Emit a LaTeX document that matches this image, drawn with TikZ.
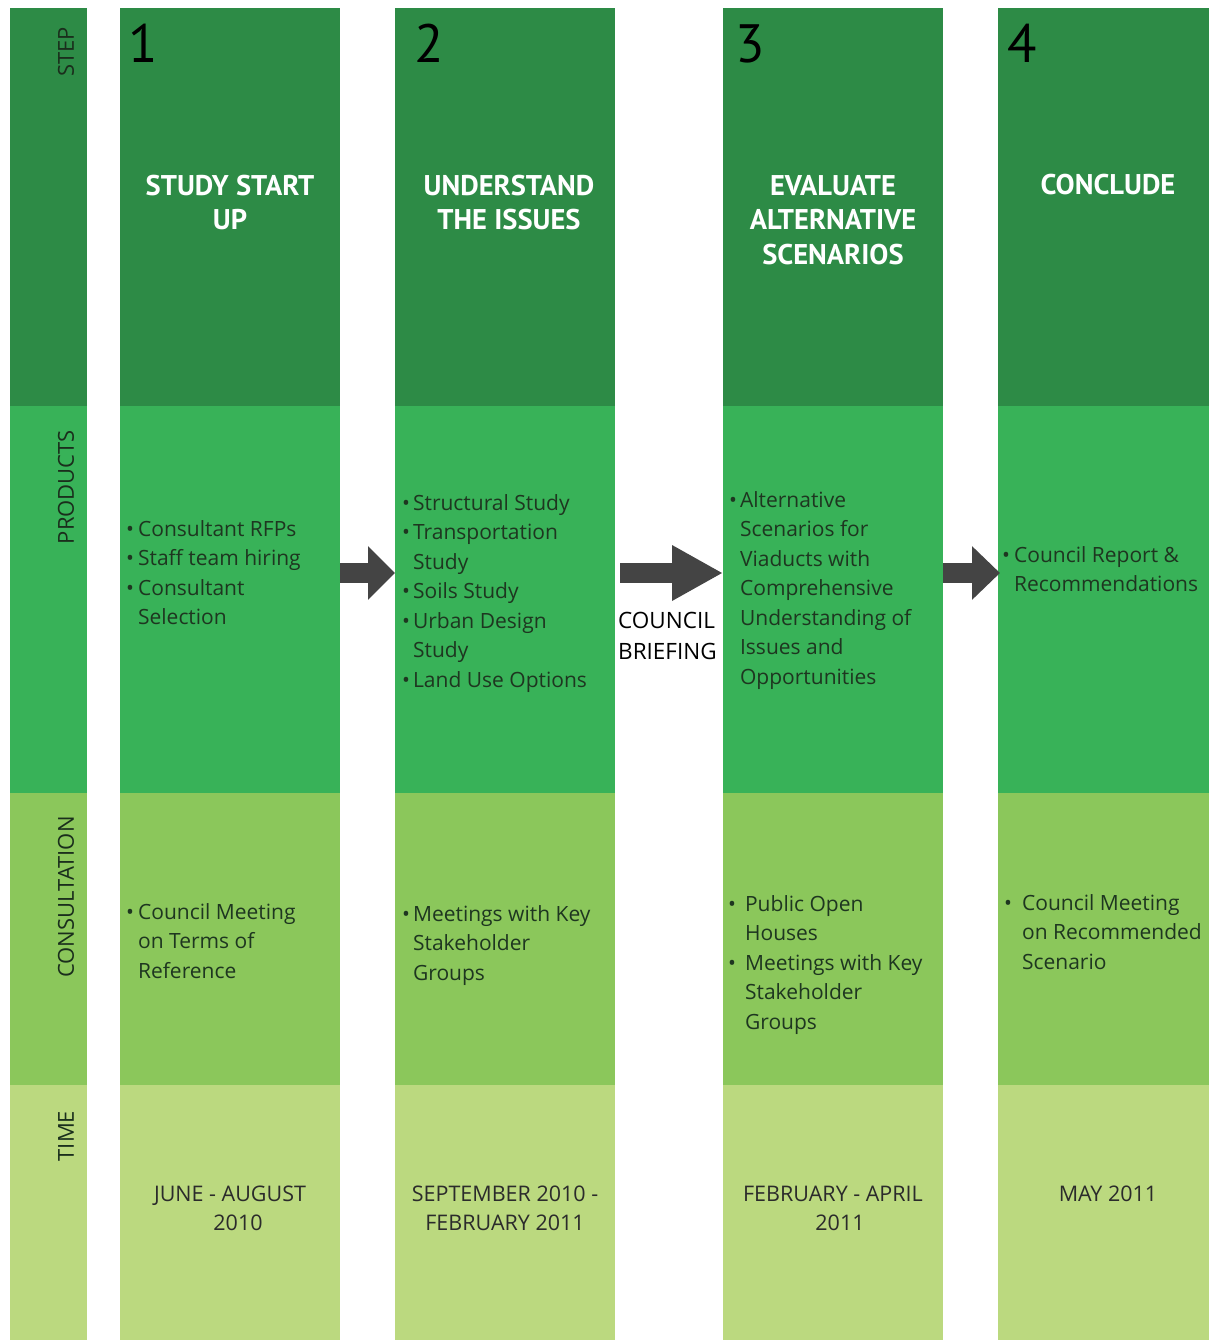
\documentclass[tikz,border=0pt]{standalone}
\usepackage{fontspec}
\setmainfont{PT Sans}
\newfontfamily\bodyfont{Open Sans}
\usetikzlibrary{arrows.meta}
\definecolor{stepc}{HTML}{2D8B46}
\definecolor{prodc}{HTML}{38B258}
\definecolor{consc}{HTML}{8BC75B}
\definecolor{timec}{HTML}{BBD97F}
\definecolor{txt}{HTML}{1E3620}
\definecolor{lbl}{HTML}{1A2E1C}
\definecolor{timetxt}{HTML}{2B2B2B}
\definecolor{arr}{HTML}{444444}
\newcommand{\dotmark}{\textbullet}
\begin{document}
\begin{tikzpicture}[x=1pt,y=-1pt,
  band/.style={draw=none, inner sep=0, outer sep=0, anchor=north west},
  title/.style={text=white, font=\bfseries\fontsize{28.5}{34.5}\selectfont, align=center, anchor=base, inner sep=0},
  num/.style={font=\fontsize{54}{54}\selectfont, anchor=base west, inner sep=0},
  body/.style={text=txt, font=\bodyfont\fontsize{21}{29.5}\selectfont, anchor=base west, inner sep=0},
  when/.style={text=timetxt, font=\bodyfont\fontsize{21.5}{29.5}\selectfont, align=center, anchor=base, inner sep=0},
  rowlabel/.style={rotate=90, font=\bodyfont\fontsize{22}{22}\selectfont, text=lbl, inner sep=0},
  flow/.style={draw=arr, line width=20pt}
]
\useasboundingbox (0,0) rectangle (1209,1340);
\fill[white] (0,0) rectangle (1209,1340);

% four bands per column: step, products, consultation, time
\foreach \k/\xl/\w in {0/10/77,1/120/220,2/395/220,3/723/220,4/998/211}{
  \node[band, fill=stepc, minimum width=\w, minimum height=398] (s\k) at (\xl,8) {};
  \node[band, fill=prodc, minimum width=\w, minimum height=387] (p\k) at (\xl,406) {};
  \node[band, fill=consc, minimum width=\w, minimum height=292] (c\k) at (\xl,793) {};
  \node[band, fill=timec, minimum width=\w, minimum height=255] (t\k) at (\xl,1085) {};
}

% row headings
\node[rowlabel] (lstep) at (66,52) {STEP};
\node[rowlabel] (lprod) at (66,487) {PRODUCTS};
\node[rowlabel] (lcons) at (66,897) {CONSULTATION};
\node[rowlabel] (ltime) at (66,1136) {TIME};

% step numbers and names (base anchor = last line)
\node[num] (n1) at (128,63) {1};
\node[num] (n2) at (414,63) {2};
\node[num] (n3) at (735,63) {3};
\node[num] (n4) at (1007,63) {4};

\node[title] (h1) at (230,229.5) {STUDY START\\UP};
\node[title] (h2) at (509,229.5) {UNDERSTAND\\THE ISSUES};
\node[title] (h3) at (833,264) {EVALUATE\\ALTERNATIVE\\SCENARIOS};
\node[title] (h4) at (1108,195) {CONCLUDE};

% products
\node[body] (b1) at (126,536) {\begin{tabular}[t]{@{}l@{\hspace{4pt}}l@{}}
\dotmark & Consultant RFPs\\
\dotmark & Staff team hiring\\
\dotmark & Consultant\\
 & Selection\end{tabular}};
\node[body] (b2) at (402,510) {\begin{tabular}[t]{@{}l@{\hspace{3pt}}l@{}}
\dotmark & Structural Study\\
\dotmark & Transportation\\
 & Study\\
\dotmark & Soils Study\\
\dotmark & Urban Design\\
 & Study\\
\dotmark & Land Use Options\end{tabular}};
\node[body] (b3) at (729,507) {\begin{tabular}[t]{@{}l@{\hspace{3pt}}l@{}}
\dotmark & Alternative\\
 & Scenarios for\\
 & Viaducts with\\
 & Comprehensive\\
 & Understanding of\\
 & Issues and\\
 & Opportunities\end{tabular}};
\node[body] (b4) at (1002,562) {\begin{tabular}[t]{@{}l@{\hspace{4pt}}l@{}}
\dotmark & Council Report \&\\
 & Recommendations\end{tabular}};

\node[body, text=black, font=\bodyfont\fontsize{22.5}{30}\selectfont] (cb1) at (618,628.5) {COUNCIL};
\node[body, text=black, font=\bodyfont\fontsize{22.5}{30}\selectfont] (cb2) at (618,659) {BRIEFING};

% consultation
\node[body] (k1) at (126,919) {\begin{tabular}[t]{@{}l@{\hspace{4pt}}l@{}}
\dotmark & Council Meeting\\
 & on Terms of\\
 & Reference\end{tabular}};
\node[body] (k2) at (402,921) {\begin{tabular}[t]{@{}l@{\hspace{3pt}}l@{}}
\dotmark & Meetings with Key\\
 & Stakeholder\\
 & Groups\end{tabular}};
\node[body] (k3) at (728,911) {\begin{tabular}[t]{@{}l@{\hspace{9pt}}l@{}}
\dotmark & Public Open\\
 & Houses\\
\dotmark & Meetings with Key\\
 & Stakeholder\\
 & Groups\end{tabular}};
\node[body] (k4) at (1004,910) {\begin{tabular}[t]{@{}l@{\hspace{10pt}}l@{}}
\dotmark & Council Meeting\\
 & on Recommended\\
 & Scenario\end{tabular}};

% timing (base anchor = last line)
\node[when] (w1) at (230,1230.5) {JUNE - AUGUST\\\hspace*{16pt}2010};
\node[when] (w2) at (505,1230.5) {SEPTEMBER 2010 -\\FEBRUARY 2011};
\node[when] (w3) at (833,1230.5) {FEBRUARY - APRIL\\\hspace*{14pt}2011};
\node[when] (w4) at (1108,1201) {MAY 2011};

% flow between steps
\coordinate (aim) at (0,573);
\draw[flow, -{Triangle[length=27pt,width=52pt]}] (p1.east |- aim) -- (p2.west |- aim);
\draw[flow, shorten <=5pt, -{Triangle[length=51pt,width=52pt]}] (p2.east |- aim) -- (p3.west |- aim);
\draw[flow, -{Triangle[length=28pt,width=52pt]}] (p3.east |- aim) -- ([xshift=2pt]p4.west |- aim);
\end{tikzpicture}
\end{document}
